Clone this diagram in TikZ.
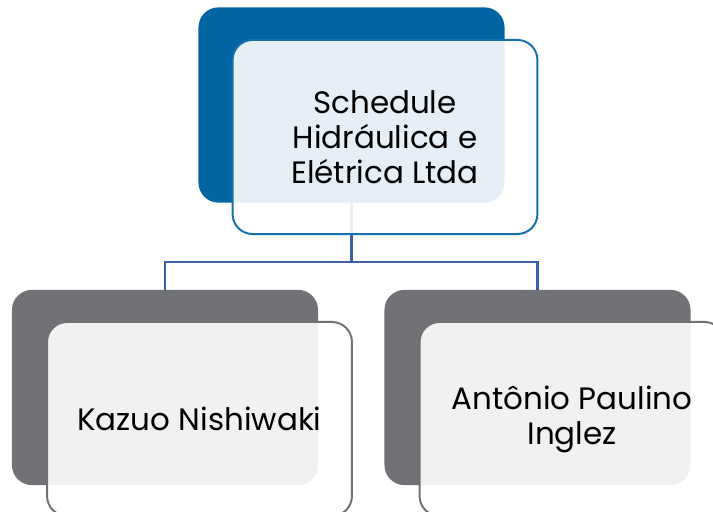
\documentclass[tikz,border=0pt]{standalone}
\usepackage{fontspec}
\setmainfont{Poppins}
\usepackage{tikz}

\definecolor{headblue}{HTML}{0065A0}
\definecolor{edgeblue}{HTML}{1570AE}
\definecolor{linkblue}{HTML}{3D5EA8}
\definecolor{staffgrey}{HTML}{717276}

\begin{document}
\begin{tikzpicture}[x=0.025cm, y=-0.025cm,
		backbox/.style={rounded corners=0.5cm, minimum width=7.65cm, minimum height=4.88cm, inner sep=0pt},
		frontbox/.style={rounded corners=0.5cm, minimum width=7.62cm, minimum height=4.85cm, inner sep=0pt,
			line width=1.4pt, fill=white, fill opacity=0.9, text opacity=1, align=center,
			font=\fontsize{22}{25}\selectfont},
		link/.style={line width=1.6pt, linkblue}]
		\useasboundingbox (0, 0) rectangle (713, 512);
		\clip (0, 0) rectangle (713, 512);
		\node[backbox, fill=headblue] (topback) at (351.5, 105) {};
		\node[backbox, fill=staffgrey] (leftback) at (165, 387.5) {};
		\node[backbox, fill=staffgrey] (rightback) at (537.5, 387.5) {};
		\coordinate (split) at (351.5, 262);
		\draw[link] (topback.south) -- (split) -| (leftback.north);
		\draw[link] (split) -| (rightback.north);
		\node[frontbox, draw=edgeblue] (top) at (385, 137) {Schedule\\Hidráulica e\\Elétrica Ltda};
		\node[frontbox, draw=staffgrey] (left) at (199.5, 419) {Kazuo Nishiwaki};
		\node[frontbox, draw=staffgrey] (right) at (572, 419) {Antônio Paulino\\Inglez};
\end{tikzpicture}
\end{document}
